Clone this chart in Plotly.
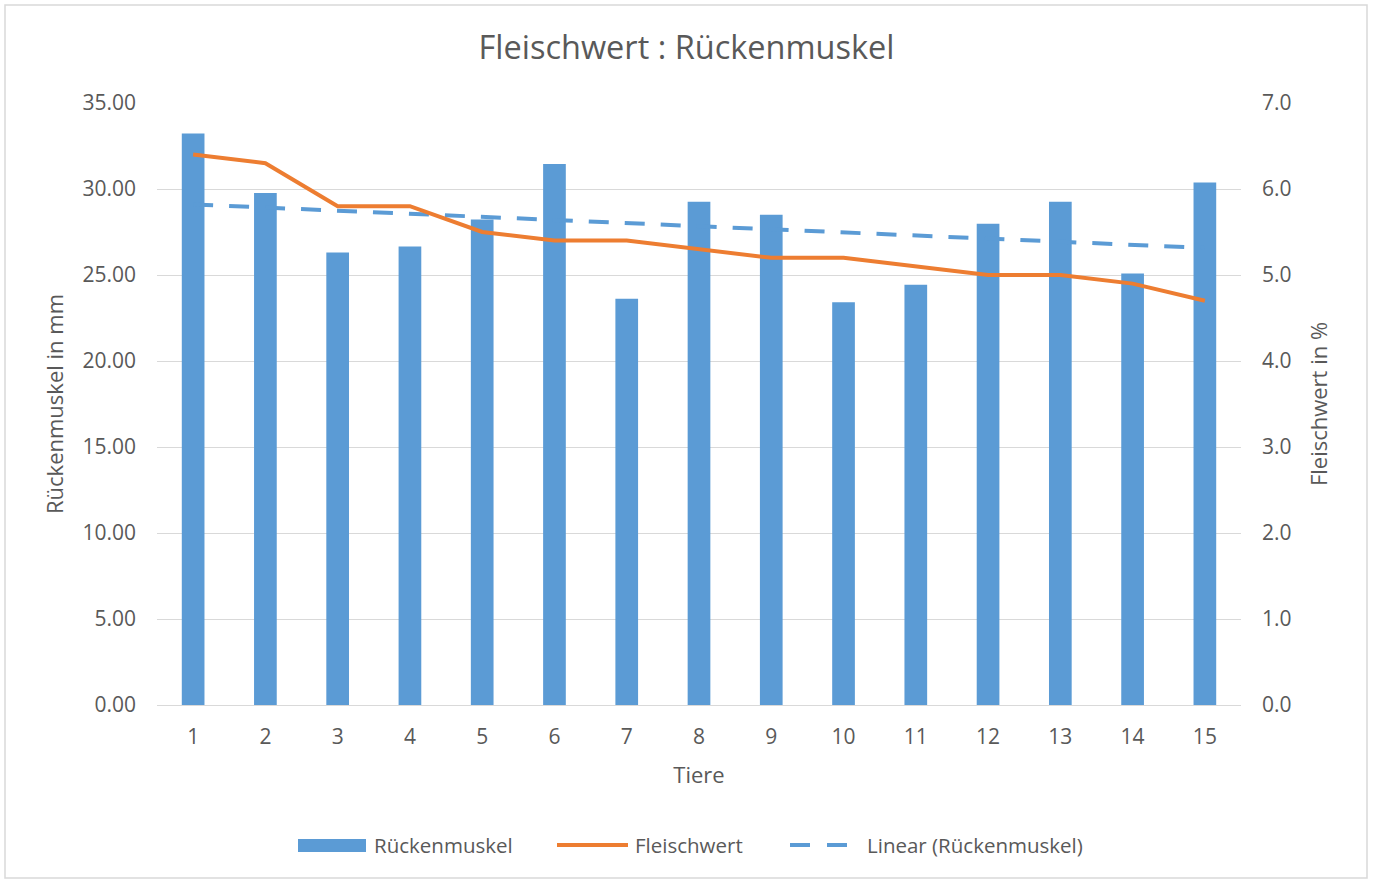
import numpy as np
import plotly.graph_objects as go

tiere = list(range(1, 16))
rueckenmuskel = [33.23, 29.77, 26.31, 26.65, 28.22, 31.45, 23.62, 29.26, 28.51, 23.41, 24.44, 27.98, 29.26, 25.08, 30.38]
fleischwert = [6.4, 6.3, 5.8, 5.8, 5.5, 5.4, 5.4, 5.3, 5.2, 5.2, 5.1, 5.0, 5.0, 4.9, 4.7]
legend_names = ["Rückenmuskel", "Fleischwert", "Linear (Rückenmuskel)"]

# Excel-style linear trendline of the bar series (least squares on index)
coef = np.polyfit(tiere, rueckenmuskel, 1)
trend = list(np.polyval(coef, tiere))

FONT = "Open Sans"
TXT = "#595959"
GRID = "#d9d9d9"
BLUE = "#5B9BD5"
ORANGE = "#ED7D31"
DASH = "20px,16px"

fig = go.Figure()
fig.add_trace(go.Bar(x=tiere, y=rueckenmuskel, name=legend_names[0],
                     marker=dict(color=BLUE, line=dict(width=0)), yaxis="y"))
fig.add_trace(go.Scatter(x=tiere, y=fleischwert, name=legend_names[1], mode="lines",
                         line=dict(color=ORANGE, width=4), yaxis="y2"))
fig.add_trace(go.Scatter(x=tiere, y=trend, name=legend_names[2], mode="lines",
                         line=dict(color=BLUE, width=4, dash=DASH), yaxis="y"))

L, R, T, B = 157, 132, 103, 176
W, H = 1373, 881
pw, ph = W - L - R, H - T - B

def px(x):
    return (x - L) / pw

def py(y):
    return (H - B - y) / ph

LEG_Y = 845
LEG_FONT = dict(family=FONT, size=20.5, color=TXT)
shapes = [
    dict(type="rect", xref="paper", yref="paper",
         x0=px(5), x1=px(1367), y0=py(878), y1=py(5),
         line=dict(color=GRID, width=1.5), fillcolor="rgba(0,0,0,0)", layer="below"),
    # manual legend symbols
    dict(type="rect", xref="paper", yref="paper",
         x0=px(298), x1=px(366), y0=py(852), y1=py(839),
         line=dict(width=0), fillcolor=BLUE),
    dict(type="line", xref="paper", yref="paper",
         x0=px(557), x1=px(628), y0=py(LEG_Y), y1=py(LEG_Y),
         line=dict(color=ORANGE, width=4)),
    dict(type="line", xref="paper", yref="paper",
         x0=px(790), x1=px(848), y0=py(LEG_Y), y1=py(LEG_Y),
         line=dict(color=BLUE, width=4, dash="20px,17px")),
]
annotations = [
    dict(text=legend_names[0], xref="paper", yref="paper", x=px(372), y=py(LEG_Y),
         xanchor="left", yanchor="middle", showarrow=False, font=LEG_FONT),
    dict(text=legend_names[1], xref="paper", yref="paper", x=px(633), y=py(LEG_Y),
         xanchor="left", yanchor="middle", showarrow=False, font=LEG_FONT),
    dict(text=legend_names[2], xref="paper", yref="paper", x=px(865), y=py(LEG_Y),
         xanchor="left", yanchor="middle", showarrow=False, font=LEG_FONT),
]

fig.update_layout(
    width=W, height=H,
    margin=dict(l=L, r=R, t=T, b=B),
    paper_bgcolor="white", plot_bgcolor="white",
    font=dict(family=FONT, color=TXT, size=20),
    title=dict(text="Fleischwert : Rückenmuskel", x=0.5, xanchor="center",
               y=1 - 48 / H, yanchor="middle",
               font=dict(family=FONT, size=32.5, color=TXT)),
    bargap=0.686,
    xaxis=dict(type="category", tickmode="array", tickvals=tiere,
               ticktext=[str(t) for t in tiere],
               showgrid=False, showline=True, linecolor=GRID, linewidth=1,
               ticks="", ticklabelstandoff=13,
               title=dict(text="Tiere", font=dict(size=22, color=TXT), standoff=18),
               tickfont=dict(size=21, color=TXT)),
    yaxis=dict(range=[0, 35], dtick=5, tickformat=".2f", showgrid=True,
               gridcolor=GRID, gridwidth=1, zeroline=False, ticks="",
               ticklabelstandoff=20,
               title=dict(text="Rückenmuskel in mm", font=dict(size=22, color=TXT), standoff=12),
               tickfont=dict(size=21, color=TXT)),
    yaxis2=dict(range=[0, 7], dtick=1, tickformat=".1f", overlaying="y", side="right",
                showgrid=False, zeroline=False, ticks="", ticklabelstandoff=20,
                title=dict(text="Fleischwert in %", font=dict(size=22, color=TXT), standoff=21),
                tickfont=dict(size=21, color=TXT)),
    showlegend=False,
    shapes=shapes,
    annotations=annotations,
)

fig.write_html("out.html",
               config={"displayModeBar": False},
               post_script="document.body.style.margin='0';document.body.style.overflow='hidden';")
